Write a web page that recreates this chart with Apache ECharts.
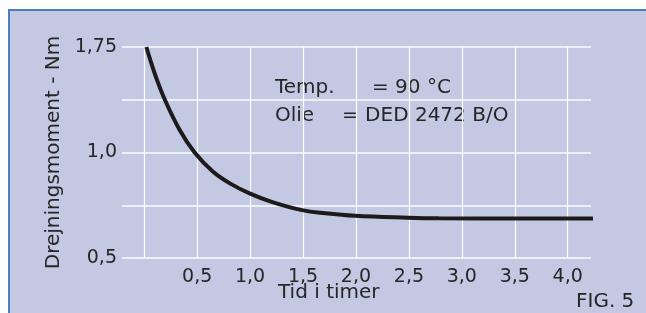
<!DOCTYPE html>
<html>
<head>
<meta charset="utf-8">
<script src="https://cdn.jsdelivr.net/npm/echarts@6/dist/echarts.min.js"></script>
<style>
  html, body { margin: 0; padding: 0; background: #ffffff; }
  #panel {
    position: absolute; left: 8px; top: 9px; width: 636px; height: 302px;
    background: #c3c9e3; border-top: 2px solid #4d7db8; border-left: 2px solid #4d7db8;
  }
  #chart { position: absolute; left: 0; top: 0; width: 646px; height: 313px; }
</style>
</head>
<body>
<div id="panel"></div>
<div id="chart"></div>
<script>
  // tid i timer / drejningsmoment (Nm), aflæst fra kurven
  const timer = [0.02, 0.1, 0.195, 0.335, 0.476, 0.648, 0.805, 1.0, 1.21, 1.49, 1.71, 1.99, 2.49, 2.78, 3.5, 4.25]
  const moment = [1.75, 1.56, 1.375, 1.16, 1.0, 0.91, 0.855, 0.805, 0.765, 0.727, 0.712, 0.70, 0.691, 0.688, 0.687, 0.687]
  const gridTicks = [0, 0.5, 1.0, 1.5, 2.0, 2.5, 3.0, 3.5, 4.0]
  const xTickLabels = [0.5, 1.0, 1.5, 2.0, 2.5, 3.0, 3.5, 4.0]
  const yTickLabels = ['0,5', '', '1,0', '', '1,75']

  // akse-skalaen er ikke lineær: nederste halvdel 0,5-1,0, øverste 1,0-1,75
  function toPos(v) {
    return v <= 1 ? (v - 0.5) / 0.25 : 2 + (v - 1) / 0.375
  }

  const txt = { fontFamily: 'DejaVu Sans', fontSize: 20, fill: '#262626' }
  let myChart = echarts.init(document.getElementById('chart'))
  myChart.setOption({
    backgroundColor: 'transparent',
    animation: false,
    grid: { left: 122, right: 55, top: 47, bottom: 55 },
    xAxis: {
      type: 'value',
      min: -0.21,
      max: 4.22,
      axisLine: { show: false },
      axisTick: { show: false, customValues: gridTicks },
      axisLabel: {
        customValues: xTickLabels,
        margin: 10,
        color: '#262626',
        fontFamily: 'DejaVu Sans',
        fontSize: 19,
        formatter: v => v.toFixed(1).replace('.', ',')
      },
      splitLine: { show: true, lineStyle: { color: '#ffffff', width: 1.2 } }
    },
    yAxis: {
      type: 'value',
      min: 0,
      max: 4,
      interval: 1,
      name: 'Drejningsmoment - Nm',
      nameLocation: 'middle',
      nameGap: 49,
      nameTextStyle: { color: '#262626', fontFamily: 'DejaVu Sans', fontSize: 20 },
      axisLine: { show: false },
      axisTick: { show: false },
      axisLabel: {
        margin: 5,
        color: '#262626',
        fontFamily: 'DejaVu Sans',
        fontSize: 19,
        formatter: v => yTickLabels[Math.round(v)]
      },
      splitLine: { show: true, lineStyle: { color: '#eef0f8', width: 2 } }
    },
    series: [{
      type: 'line',
      data: timer.map((t, i) => [t, toPos(moment[i])]),
      smooth: 0.4,
      showSymbol: false,
      clip: false,
      lineStyle: { color: '#1c1a1a', width: 4 }
    }],
    graphic: [
      { type: 'text', left: 275, top: 78, style: Object.assign({ text: 'Temp.' }, txt) },
      { type: 'text', left: 372, top: 78, style: Object.assign({ text: '= 90 °C' }, txt) },
      { type: 'text', left: 275, top: 106, style: Object.assign({ text: 'Olie' }, txt) },
      { type: 'text', left: 342, top: 106, style: Object.assign({ text: '= DED 2472 B/O' }, txt) },
      { type: 'text', left: 278, top: 283, style: Object.assign({ text: 'Tid i timer' }, txt) },
      { type: 'text', left: 576, top: 292, style: Object.assign({ text: 'FIG. 5' }, txt) }
    ]
  })
</script>
</body>
</html>
